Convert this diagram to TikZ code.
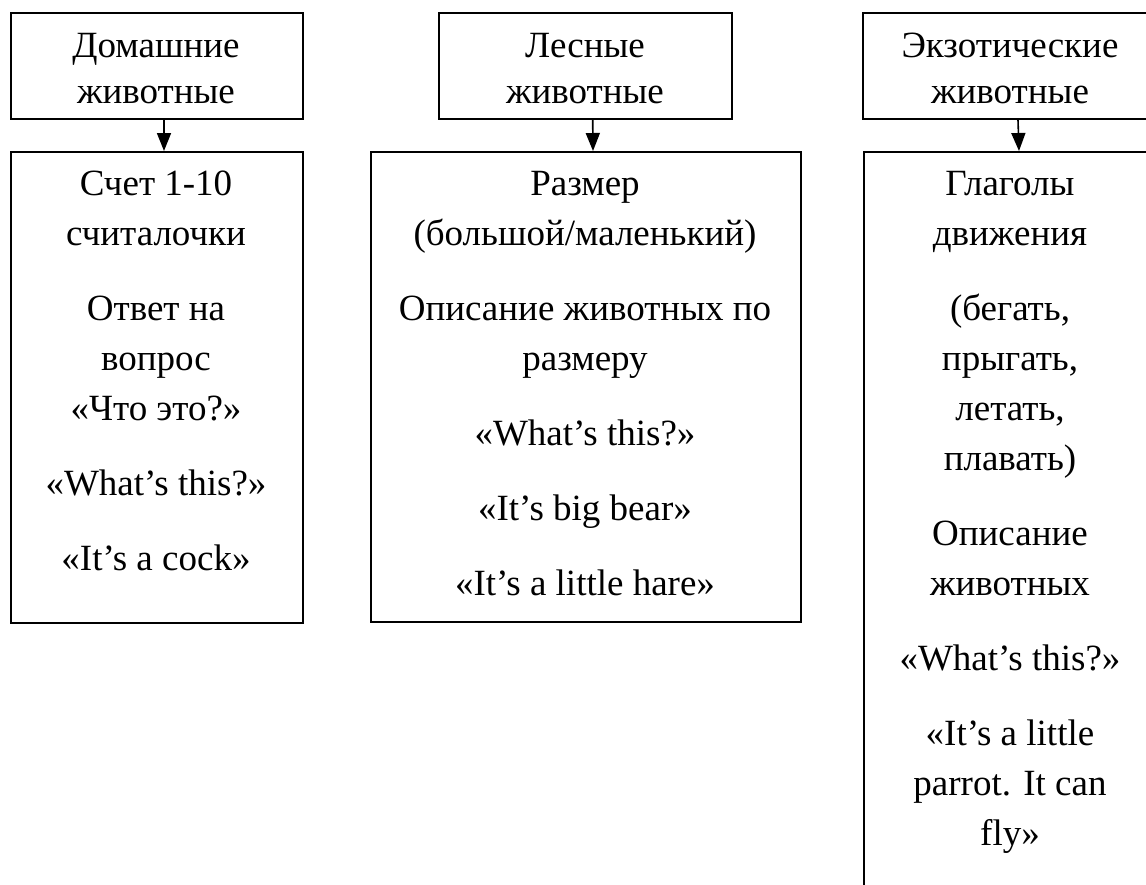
\documentclass[tikz,border=0pt]{standalone}
\usepackage{fontspec}
\setmainfont{Liberation Serif}
\usetikzlibrary{arrows.meta}
\begin{document}
\begin{tikzpicture}[x=0.5pt,y=-0.5pt,
  box/.style={draw, line width=1pt, inner sep=0pt, anchor=north west},
  txt/.style={inner sep=0pt, anchor=north, align=center, font=\fontsize{18.5}{25}\selectfont},
  toptxt/.style={inner sep=0pt, anchor=north, align=center, font=\fontsize{18.5}{23}\selectfont},
  conn/.style={-{Triangle[length=9pt,width=7pt]}, line width=0.8pt}]
\useasboundingbox (0,0) rectangle (1146,884);
\clip (0,0) rectangle (1146,884);
\fill[white] (0,0) rectangle (1146,884);
% top boxes
\node[box, minimum width=146pt, minimum height=53pt] (a1) at (10,12) {};
\node[box, minimum width=146.5pt, minimum height=53pt] (a2) at (438,12) {};
\node[box, minimum width=148pt, minimum height=53pt] (a3) at (862,12) {};
% bottom boxes
\node[box, minimum width=146pt, minimum height=235.5pt] (b1) at (10,151) {};
\node[box, minimum width=215pt, minimum height=235pt] (b2) at (370,151) {};
\node[box, minimum width=148pt, minimum height=450pt] (b3) at (863,151) {};
% top texts
\node[toptxt] (ta1) at (156,25) {\rule{0pt}{16pt}Домашние\\животные};
\node[toptxt] (ta2) at (585,25) {\rule{0pt}{16pt}Лесные\\животные};
\node[toptxt] (ta3) at (1010,25) {\rule{0pt}{16pt}Экзотические\\животные};
% bottom texts
\node[txt] (tb1) at (156,163) {\rule{0pt}{16pt}Счет 1-10\\считалочки\\[12.5pt]Ответ на\\вопрос\\«Что это?»\\[12.5pt]«What’s this?»\\[12.5pt]«It’s a cock»};
\node[txt] (tb2) at (585,163) {\rule{0pt}{16pt}Размер\\(большой/маленький)\\[12.5pt]Описание животных по\\размеру\\[12.5pt]«What’s this?»\\[12.5pt]«It’s big bear»\\[12.5pt]«It’s a little hare»};
\node[txt] (tb3) at (1010,163) {\rule{0pt}{16pt}Глаголы\\движения\\[12.5pt](бегать,\\прыгать,\\летать,\\плавать)\\[12.5pt]Описание\\животных\\[12.5pt]«What’s this?»\\[12.5pt]«It’s a little\\parrot. It can\\fly»};
% connectors
\draw[conn] ([xshift=3.5pt]a1.south) -- ([xshift=3.5pt]b1.north);
\draw[conn] ([xshift=3.6pt]a2.south) -- ([xshift=3.5pt]b2.north);
\draw[conn] ([xshift=3.5pt]a3.south) -- ([xshift=3.5pt]b3.north);
\end{tikzpicture}
\end{document}
